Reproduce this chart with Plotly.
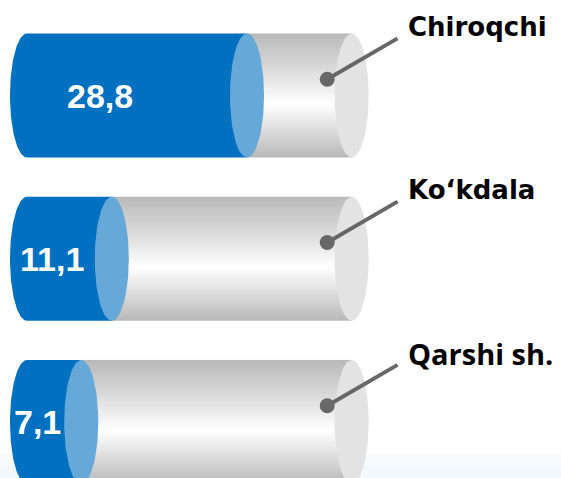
import numpy as np
import plotly.graph_objects as go

# ---- data ----
regions = ["Chiroqchi", "Ko‘kdala", "Qarshi sh."]
values = [28.8, 11.1, 7.1]
value_labels = ["28,8", "11,1", "7,1"]
total = 42.5  # full length of each cylinder on the value axis

# ---- style ----
BLUE = "#0070c0"
BLUE_CAP = "#66a9d9"
CAP_GRAY = "#e3e3e3"
DOT = "#686868"
RX = 2.23   # cap half-width in value units
RY = 0.38   # cylinder half-height in category units

def ellipse(cx, cy, rx, ry, t0=0.0, t1=2 * np.pi, n=90):
    t = np.linspace(t0, t1, n)
    return cx + rx * np.cos(t), cy + ry * np.sin(t)

fig = go.Figure()

# body gradient colorscale (top -> bottom)
grad_scale = [[0.0, "#bababa"], [0.25, "#d6d6d6"], [0.57, "#ffffff"],
              [0.8, "#dadada"], [1.0, "#b9b9b9"]]
nrows = 70

for i, (name, v, lab) in enumerate(zip(regions, values, value_labels)):
    cy = i
    # gray body (vertical gradient) from value to total
    yedges = np.linspace(cy - RY, cy + RY, nrows + 1)
    z = np.linspace(0, 1, nrows).reshape(-1, 1)
    fig.add_trace(go.Heatmap(
        x=[v, total], y=yedges, z=z, colorscale=grad_scale, zmin=0, zmax=1,
        showscale=False, hoverinfo="skip"))
    # right end cap
    ex, ey = ellipse(total, cy, RX, RY)
    fig.add_trace(go.Scatter(x=ex, y=ey, fill="toself", fillcolor=CAP_GRAY,
                             mode="lines", line=dict(width=0), hoverinfo="skip"))
    # blue body with rounded left end
    lx, ly = ellipse(0, cy, RX, RY, np.pi / 2, 3 * np.pi / 2)
    bx = list(lx) + [v, v]
    by = list(ly) + [cy - RY, cy + RY]
    fig.add_trace(go.Scatter(x=bx, y=by, fill="toself", fillcolor=BLUE,
                             mode="lines", line=dict(width=0), hoverinfo="skip"))
    # blue cap at the value
    cx_, cy_ = ellipse(v, cy, RX, RY)
    fig.add_trace(go.Scatter(x=cx_, y=cy_, fill="toself", fillcolor=BLUE_CAP,
                             mode="lines", line=dict(width=0), hoverinfo="skip"))
    # leader line + dot
    dot_x, dot_y = total - 3.2, cy - 0.1
    end_x, end_y = 48.5, cy - 0.35
    fig.add_trace(go.Scatter(x=[dot_x, end_x], y=[dot_y, end_y], mode="lines",
                             line=dict(color=DOT, width=4), hoverinfo="skip"))
    fig.add_trace(go.Scatter(x=[dot_x], y=[dot_y], mode="markers",
                             marker=dict(color=DOT, size=15), hoverinfo="skip"))
    # value label (centred inside the blue part)
    tx = min(v / 3, v / 2 - RX)
    fig.add_annotation(x=tx, y=cy, text=lab, showarrow=False,
                       xanchor="center", yanchor="middle",
                       font=dict(family="Liberation Sans, Arial, sans-serif",
                                 size=34, color="white", weight="bold"))
    # region label
    fam = "Open Sans" if i == 2 else "DejaVu Sans"
    size = 29 if i == 2 else 26
    fig.add_annotation(x=49.6, y=cy - 0.42, text=name, showarrow=False,
                       xanchor="left", yanchor="middle",
                       font=dict(family=fam, size=size, color="black", weight="bold"))

# faint light-blue tint at the bottom
fig.add_shape(type="rect", xref="paper", yref="paper", x0=0, x1=1, y0=0, y1=0.05,
              fillcolor="#f7fbfd", line=dict(width=0), layer="below")
fig.add_shape(type="rect", xref="paper", yref="paper", x0=0, x1=1, y0=0, y1=0.025,
              fillcolor="#f2f8fc", line=dict(width=0), layer="below")

fig.update_layout(
    width=561, height=478, autosize=False,
    margin=dict(l=0, r=0, t=0, b=0),
    paper_bgcolor="white", plot_bgcolor="rgba(0,0,0,0)",
    showlegend=False,
    xaxis=dict(range=[-3.534, 69.9], visible=False, fixedrange=True),
    yaxis=dict(range=[2.343, -0.585], visible=False, fixedrange=True),
)

fig.write_html("out.html", config={"displayModeBar": False},
               post_script="document.body.style.margin='0';document.body.style.overflow='hidden';")
